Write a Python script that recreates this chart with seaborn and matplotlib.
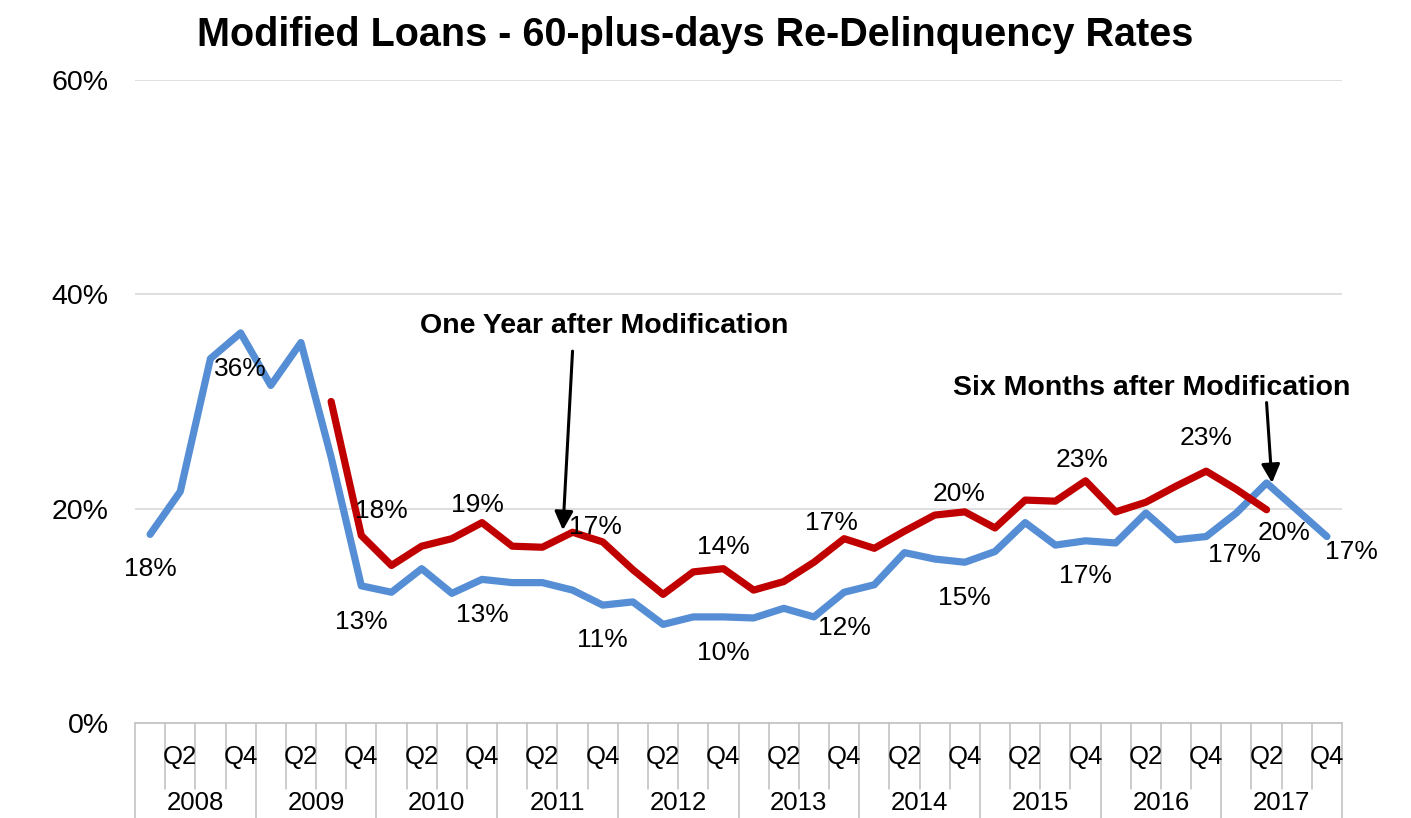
import numpy as np
import pandas as pd
import matplotlib
matplotlib.use("Agg")
import matplotlib.pyplot as plt
import seaborn as sns

# ---------------- data ----------------
years = [str(y) for y in range(2008, 2018)]
quarter_labels = ["", "Q2", "", "Q4"]

six_months = [17.6, 21.6, 34.0, 36.4, 31.5, 35.5, 24.8, 12.8,
              12.2, 14.4, 12.1, 13.4, 13.1, 13.1, 12.4, 11.0,
              11.3, 9.2, 9.9, 9.9, 9.8, 10.7, 9.9, 12.2,
              12.9, 15.9, 15.3, 15.0, 16.0, 18.7, 16.6, 17.0,
              16.8, 19.6, 17.1, 17.4, 19.6, 22.4, 19.9, 17.4]
one_year = [np.nan] * 6 + [30.0, 17.5,
            14.7, 16.5, 17.2, 18.7, 16.5, 16.4, 17.8, 16.9,
            14.3, 12.0, 14.1, 14.4, 12.4, 13.2, 15.0, 17.2,
            16.3, 17.9, 19.4, 19.7, 18.2, 20.8, 20.7, 22.6,
            19.7, 20.6, 22.1, 23.5, 21.8, 19.9] + [np.nan, np.nan]

blue_label_idx = [0, 3, 7, 11, 15, 19, 23, 27, 31, 35, 39]
blue_label_txt = ["18%", "36%", "13%", "13%", "11%", "10%", "12%", "15%", "17%", "17%", "17%"]
red_label_idx = [7, 11, 15, 19, 23, 27, 31, 35, 37]
red_label_txt = ["18%", "19%", "17%", "14%", "17%", "20%", "23%", "23%", "20%"]

# label offsets (pixels)
blue_offsets = [(0, -35), (0, -36), (0, -36), (0, -36), (0, -35), (0, -36),
                (0, -36), (0, -36), (0, -35), (28, -18), (25, -15)]
red_offsets = [(20, 24), (-5, 18), (-7, 15), (0, 22), (-13, 16), (-6, 18),
               (-3, 21), (0, 33), (17, -23)]

BLUE = "#558ED5"
RED = "#C00000"

n = len(six_months)
idx = np.arange(n)
df = pd.concat([
    pd.DataFrame({"idx": idx, "value": six_months, "series": "Six Months"}),
    pd.DataFrame({"idx": idx, "value": one_year, "series": "One Year"}),
]).dropna()

# ---------------- style ----------------
sns.set_theme(style="white")
plt.rcParams["font.family"] = ["Liberation Sans", "DejaVu Sans"]
plt.rcParams["text.color"] = "black"
plt.rcParams["ytick.color"] = "black"
plt.rcParams["ytick.labelcolor"] = "black"

fig = plt.figure(figsize=(14.11, 8.18), dpi=100)
ax = fig.add_axes([135 / 1411, 95 / 818, 1207 / 1411, 643 / 818])

sns.lineplot(data=df, x="idx", y="value", hue="series",
             palette={"Six Months": BLUE, "One Year": RED},
             linewidth=5.2, legend=False, ax=ax, sort=True)
for ln in ax.lines:
    ln.set_solid_capstyle("round")
    ln.set_solid_joinstyle("round")

ax.set_xlim(-0.5, n - 0.5)
ax.set_ylim(0, 60)
ax.set_yticks([0, 20, 40, 60])
ax.set_yticklabels(["0%", "20%", "40%", "60%"], fontsize=20.5, color="black")
ax.tick_params(axis="y", length=0, pad=19)
ax.set_xticks([])
ax.set_xlabel("")
ax.set_ylabel("")
for s in ax.spines.values():
    s.set_visible(False)
for yv in [20, 40, 60]:
    ax.axhline(yv, color="#d9d9d9", lw=1.2, zorder=0)
ax.axhline(0, color="#bfbfbf", lw=1.2, zorder=0, clip_on=False)

# multi-level category axis
xt = ax.get_xaxis_transform()
for k in range(n + 1):
    xpos = k - 0.5
    bottom = -0.148 if k % 4 == 0 else -0.103
    ax.plot([xpos, xpos], [0, bottom], transform=xt, color="#bfbfbf",
            lw=1.1, clip_on=False)
for i in range(n):
    q = quarter_labels[i % 4]
    if q:
        ax.text(i, -0.053, q, transform=xt, ha="center", va="center",
                fontsize=18.5, color="black")
for j, yr in enumerate(years):
    ax.text(4 * j + 1.5, -0.124, yr, transform=xt, ha="center", va="center",
            fontsize=18.5, color="black")

# data labels
for i, t, (dx, dy) in zip(blue_label_idx, blue_label_txt, blue_offsets):
    ax.annotate(t, (i, six_months[i]), xytext=(dx, dy),
                textcoords="offset pixels", ha="center", va="center",
                fontsize=19, color="black")
for i, t, (dx, dy) in zip(red_label_idx, red_label_txt, red_offsets):
    ax.annotate(t, (i, one_year[i]), xytext=(dx, dy),
                textcoords="offset pixels", ha="center", va="center",
                fontsize=19, color="black")

# callouts
ax.text(15.04, 37.0, "One Year after Modification", ha="center", va="center",
        fontsize=20.5, weight="bold", color="black")
ax.annotate("", xy=(13.68, 18.0), xytext=(14.0, 34.7),
            arrowprops=dict(arrowstyle="-|>", color="black", lw=2.2,
                            mutation_scale=28, shrinkA=0, shrinkB=0))
ax.text(33.2, 31.3, "Six Months after Modification", ha="center", va="center",
        fontsize=20.5, weight="bold", color="black")
ax.annotate("", xy=(37.18, 22.4), xytext=(37.0, 29.9),
            arrowprops=dict(arrowstyle="-|>", color="black", lw=2.2,
                            mutation_scale=28, shrinkA=0, shrinkB=0))

fig.text(0.493, 1 - 35 / 818, "Modified Loans - 60-plus-days Re-Delinquency Rates",
         ha="center", va="center", fontsize=28.5, weight="bold", color="black")

fig.savefig("out.png", dpi=100)
